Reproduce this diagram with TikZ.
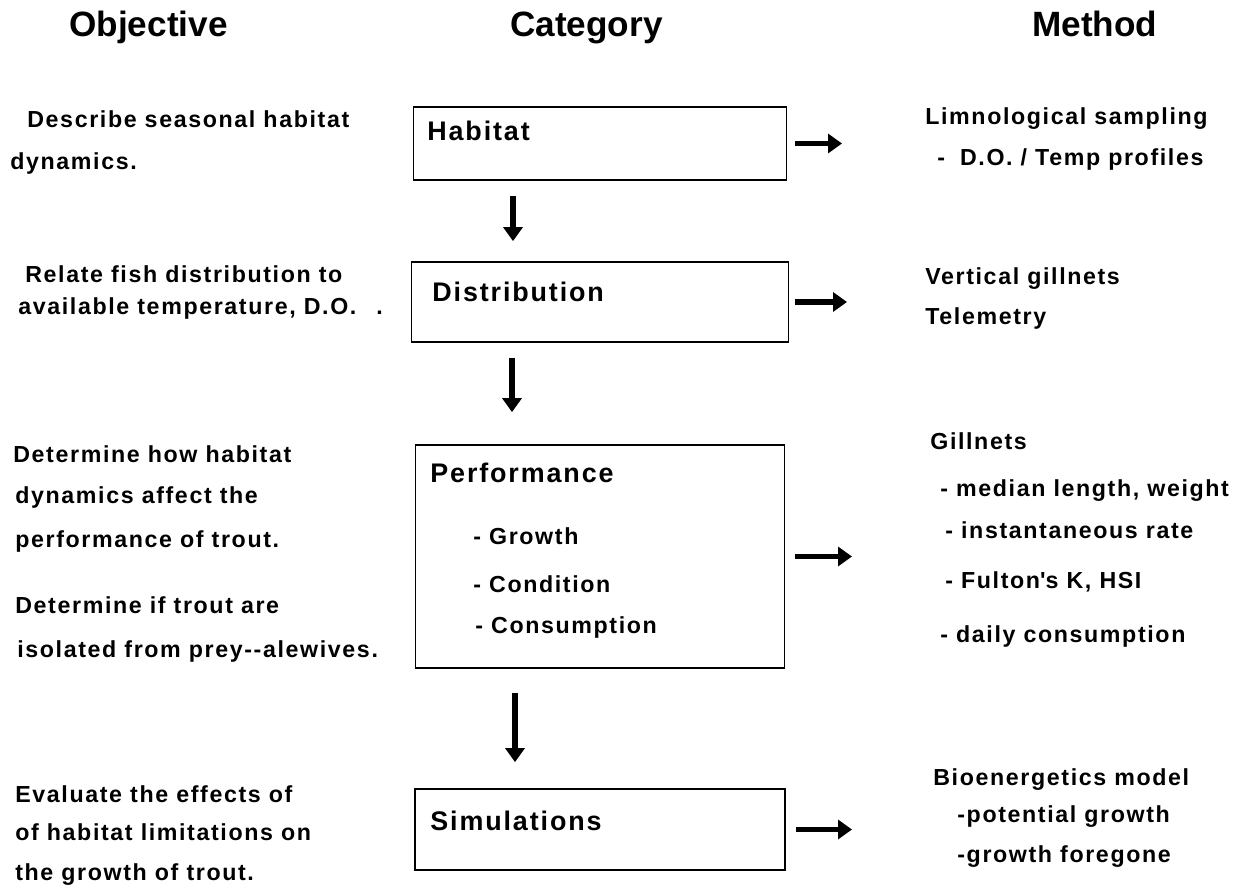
\documentclass[tikz,border=0pt]{standalone}
\usepackage{fontspec}
\setmainfont{Liberation Sans}
\newfontfamily\spaced[LetterSpace=7]{Liberation Sans}
\usetikzlibrary{arrows.meta, positioning}

\begin{document}
\begin{tikzpicture}[auto, >={Triangle[length=0.28cm, width=0.38cm]}, node distance = 1 cm]
				\tikzstyle{box} = [draw=black, line width=1pt, rectangle, inner sep=0pt]
				\tikzstyle{head} = [inner sep=0pt, anchor=base west, font=\fontsize{20}{24}\selectfont\bfseries]
				\tikzstyle{title} = [inner sep=0pt, anchor=base west, font=\fontsize{15.3}{18}\spaced\bfseries]
				\tikzstyle{txt} = [inner sep=0pt, anchor=base west, font=\fontsize{13.2}{16}\spaced\bfseries]
				\tikzstyle{flow} = [->, line width=3.4pt]
				
				\useasboundingbox (0,0) rectangle (25.08,-17.76);
				
				% column heads
				\node[head]		at (1.38, -0.74)	(t0)	{Objective};
				\node[head]		at (10.2, -0.74)	(t1)	{Category};
				\node[head]		at (20.64, -0.74)	(t2)	{Method};
				
				% category boxes
				\node[box, minimum width=7.46cm, minimum height=1.46cm]	at (12, -2.87)	(b0)	{};
				\node[box, minimum width=7.54cm, minimum height=1.6cm]	at (12, -6.04)	(b1)	{};
				\node[box, minimum width=7.38cm, minimum height=4.46cm]	at (12, -11.13)	(b2)	{};
				\node[box, minimum width=7.4cm, minimum height=1.62cm]	at (12, -16.59)	(b3)	{};
				
				\node[title]	at (8.54, -2.82)	(c0)	{Habitat};
				\node[title]	at (8.64, -6.04)	(c1)	{Distribution};
				\node[title]	at (8.60, -9.66)	(c2)	{Performance};
				\node[txt]		at (9.46, -10.88)	(c3)	{- Growth};
				\node[txt]		at (9.46, -11.84)	(c4)	{- Condition};
				\node[txt]		at (9.50, -12.66)	(c5)	{- Consumption};
				\node[title]	at (8.60, -16.60)	(c6)	{Simulations};
				
				% objectives
				\node[txt]	at (0.54, -2.56)	(o0)	{Describe seasonal habitat};
				\node[txt]	at (0.20, -3.40)	(o1)	{dynamics.};
				\node[txt]	at (0.50, -5.66)	(o2)	{Relate fish distribution to};
				\node[txt]	at (0.36, -6.30)	(o3)	{available temperature, D.O.\hspace{0.4cm}.};
				\node[txt]	at (0.26, -9.24)	(o4)	{Determine how habitat};
				\node[txt]	at (0.30, -10.06)	(o5)	{dynamics affect the};
				\node[txt]	at (0.30, -10.94)	(o6)	{performance of trout.};
				\node[txt]	at (0.30, -12.26)	(o7)	{Determine if trout are};
				\node[txt]	at (0.34, -13.14)	(o8)	{isolated from prey{-}{-}alewives.};
				\node[txt]	at (0.30, -16.04)	(o9)	{Evaluate the effects of};
				\node[txt]	at (0.30, -16.80)	(o10)	{of habitat limitations on};
				\node[txt]	at (0.30, -17.60)	(o11)	{the growth of trout.};
				
				% methods
				\node[txt]	at (18.50, -2.50)	(m0)	{Limnological sampling};
				\node[txt]	at (18.74, -3.32)	(m1)	{-\hspace{0.3cm}D.O. / Temp profiles};
				\node[txt]	at (18.50, -5.70)	(m2)	{Vertical gillnets};
				\node[txt]	at (18.50, -6.50)	(m3)	{Telemetry};
				\node[txt]	at (18.60, -9.00)	(m4)	{Gillnets};
				\node[txt]	at (18.80, -9.94)	(m5)	{- median length, weight};
				\node[txt]	at (18.90, -10.76)	(m6)	{- instantaneous rate};
				\node[txt]	at (18.90, -11.76)	(m7)	{- Fulton\textquotesingle s K, HSI};
				\node[txt]	at (18.80, -12.84)	(m8)	{- daily consumption};
				\node[txt]	at (18.66, -15.70)	(m9)	{Bioenergetics model};
				\node[txt]	at (19.14, -16.44)	(m10)	{-potential growth};
				\node[txt]	at (19.14, -17.24)	(m11)	{-growth foregone};
				
				% arrow ends on the method side
				\coordinate (a0) at (16.84, -2.87);
				\coordinate (a1) at (16.94, -6.04);
				\coordinate (a2) at (17.04, -11.13);
				\coordinate (a3) at (17.04, -16.59);
				
				\draw[flow] ([xshift=-1.74cm, yshift=-0.3cm]b0.south) -- ([xshift=-1.74cm, yshift=0.4cm]b1.north);
				\draw[flow] ([xshift=-1.76cm, yshift=-0.3cm]b1.south) -- ([xshift=-1.76cm, yshift=0.64cm]b2.north);
				\draw[flow] ([xshift=-1.70cm, yshift=-0.48cm]b2.south) -- ([xshift=-1.70cm, yshift=0.52cm]b3.north);
				
				\draw[flow] ([xshift=0.16cm]b0.east) -- (a0);
				\draw[flow] ([xshift=0.12cm]b1.east) -- (a1);
				\draw[flow] ([xshift=0.2cm]b2.east) -- (a2);
				\draw[flow] ([xshift=0.2cm]b3.east) -- (a3);
			\end{tikzpicture}
\end{document}
